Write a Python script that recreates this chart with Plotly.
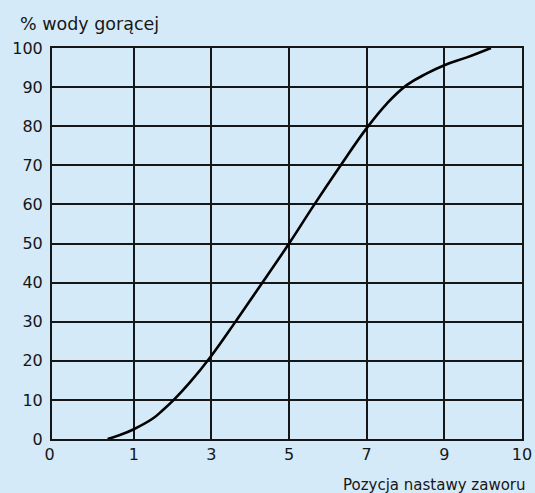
import numpy as np
import plotly.graph_objects as go

# Tick labels on the x axis (valve setting) – drawn evenly spaced as in the original
x_tick_values = [0, 1, 3, 5, 7, 9, 10]
x_tick_labels = ["0", "1", "3", "5", "7", "9", "10"]
y_tick_values = [0, 10, 20, 30, 40, 50, 60, 70, 80, 90, 100]

# Curve: valve position vs % hot water
valve_position = [0.68, 0.83, 1.0, 1.50, 1.75, 2.03, 2.44, 3.0, 3.60, 4.16, 5.0,
                  5.62, 6.31, 7.0, 7.52, 8.03, 8.55, 9.0, 9.29, 9.60]
hot_water_pct = [0.0, 1.0, 2.5, 5.3, 7.4, 10.0, 14.4, 21.3, 29.7, 37.8, 50.0,
                 59.5, 69.7, 79.5, 85.8, 90.5, 93.5, 95.6, 97.6, 100.0]

# axis positions of the labelled ticks (the chart spaces them evenly)
tick_pos = [0.0, 1.053, 2.053, 3.053, 4.053, 5.053, 6.053]
curve_x = np.interp(valve_position, x_tick_values, tick_pos)

BG = "#d5eaf8"
INK = "#161616"
FONT = "DejaVu Sans"

fig = go.Figure()
fig.add_trace(go.Scatter(
    x=curve_x, y=hot_water_pct, mode="lines",
    line=dict(color="#000000", width=2.6, shape="spline", smoothing=1.2),
    hoverinfo="skip", showlegend=False,
))

fig.update_layout(
    width=535, height=493, autosize=False,
    paper_bgcolor=BG, plot_bgcolor=BG,
    margin=dict(l=52, r=13, t=48, b=54, autoexpand=False),
    font=dict(family=FONT, color=INK, size=15),
    xaxis=dict(
        range=[tick_pos[0], tick_pos[-1]], automargin=False,
        tickmode="array", tickvals=tick_pos,
        ticktext=["0\u00a0"] + x_tick_labels[1:],
        showgrid=True, gridcolor=INK, gridwidth=1.6,
        showline=True, linecolor=INK, linewidth=2, mirror=True,
        zeroline=False, ticks="", ticklen=0,
        tickfont=dict(family=FONT, size=16, color=INK),
        fixedrange=True,
    ),
    yaxis=dict(
        range=[0, 100], automargin=False,
        tickmode="array", tickvals=y_tick_values,
        showgrid=True, gridcolor=INK, gridwidth=1.6,
        showline=True, linecolor=INK, linewidth=2, mirror=True,
        zeroline=False, ticks="outside", ticklen=4, tickcolor="rgba(0,0,0,0)",
        tickfont=dict(family=FONT, size=16, color=INK),
        fixedrange=True,
    ),
    annotations=[
        dict(text="% wody gorącej", xref="paper", yref="paper",
             x=-0.073, y=1.0, xanchor="left", yanchor="bottom", yshift=12,
             showarrow=False, font=dict(family=FONT, size=17.5, color=INK)),
        dict(text="Pozycja nastawy zaworu", xref="paper", yref="paper",
             x=1.0, y=0.0, xanchor="right", yanchor="top", yshift=-35, xshift=6,
             showarrow=False, font=dict(family=FONT, size=15, color=INK)),
    ],
)

fig.write_html(
    "out.html",
    config={"displayModeBar": False, "responsive": False},
    post_script="document.body.style.margin='0';document.body.style.padding='0';"
                "document.body.style.background='" + BG + "';"
                "document.body.style.overflow='hidden';",
)
